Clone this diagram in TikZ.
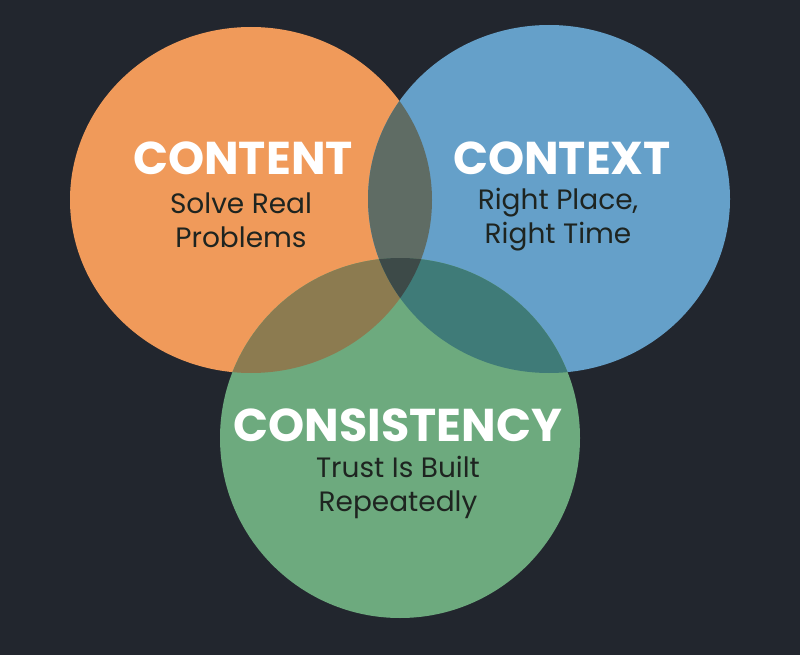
\documentclass[tikz,border=0pt]{standalone}
\usepackage{fontspec}
\setmainfont{Poppins}
\begin{document}
\begin{tikzpicture}[x=1pt,y=-1pt,
  title/.style={text=white,font=\fontsize{46}{50}\selectfont\bfseries,inner sep=0},
  sub/.style={text=subc,font=\fontsize{28}{34}\selectfont,align=center,inner sep=0}]
\definecolor{bg}{HTML}{22262E}
\definecolor{orc}{HTML}{F09A5A}
\definecolor{blc}{HTML}{65A0C9}
\definecolor{grc}{HTML}{6DAA7E}
\definecolor{ob}{HTML}{5F6C64}
\definecolor{og}{HTML}{8C7B50}
\definecolor{bgc}{HTML}{3F7B78}
\definecolor{all}{HTML}{3D4A48}
\definecolor{subc}{HTML}{1E2420}
\fill[bg] (0,0) rectangle (800,655);
\useasboundingbox (0,0) rectangle (800,655);
\def\co{(251,200) ellipse[x radius=181,y radius=173]}
\def\cb{(549,199) ellipse[x radius=181,y radius=174]}
\def\cg{(400,438) circle[radius=180]}
\fill[orc] \co; \fill[blc] \cb; \fill[grc] \cg;
\begin{scope}\clip \co; \fill[ob] \cb; \fill[og] \cg; \end{scope}
\begin{scope}\clip \cb; \fill[bgc] \cg; \end{scope}
\begin{scope}\clip \co; \clip \cb; \fill[all] \cg; \end{scope}
\node[title] (t1) at (243,158) {CONTENT};
\node[sub] (s1) at (241,220) {Solve Real\\Problems};
\node[title] (t2) at (562,158) {CONTEXT};
\node[sub] (s2) at (558,220) {Right Place,\\Right Time};
\node[title] (t3) at (398,425) {CONSISTENCY};
\node[sub] (s3) at (398,487) {Trust Is Built\\Repeatedly};
\end{tikzpicture}
\end{document}
